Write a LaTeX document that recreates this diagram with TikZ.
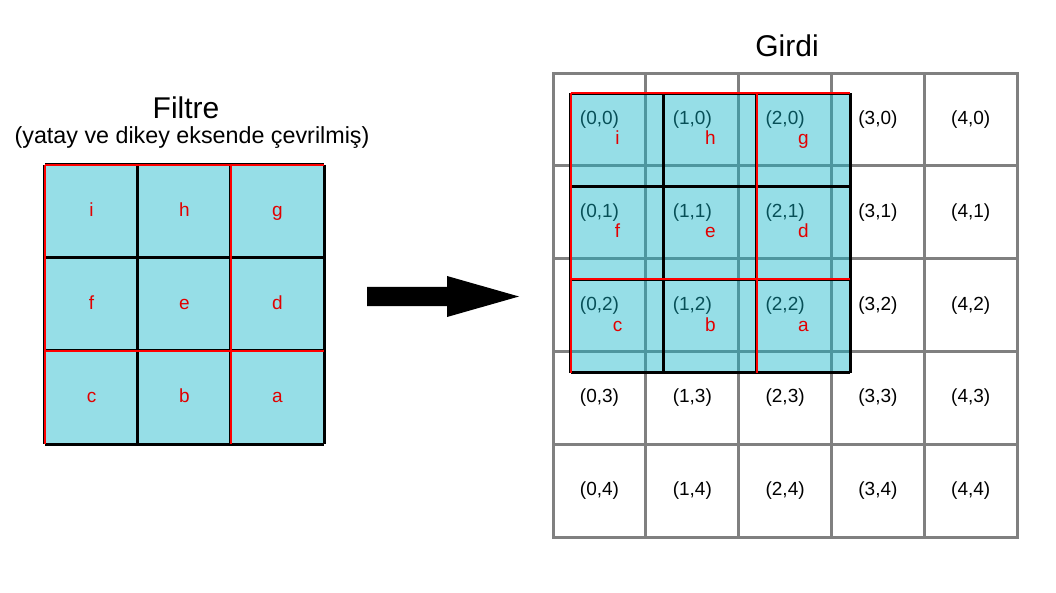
\documentclass[tikz,border=0pt]{standalone}
\usepackage{fontspec}
\setmainfont{Liberation Sans}
\definecolor{cellfill}{RGB}{150,222,231}
\definecolor{ovfill}{RGB}{16,180,200}
\definecolor{lettred}{RGB}{226,0,0}
\definecolor{gridgray}{RGB}{128,128,128}
\tikzset{
  txt/.style={font=\fontsize{19}{22}\selectfont, text height=14pt, text depth=4pt},
  gridcell/.style={draw=gridgray, line width=3pt, minimum size=92.8pt, inner sep=0pt, txt},
  filtcell/.style={fill=cellfill, minimum size=93pt, inner sep=0pt, text=lettred, txt},
  ovcell/.style={fill=ovfill, fill opacity=0.44, text opacity=1, minimum size=93pt, inner sep=0pt},
  letter/.style={text=lettred, inner sep=0pt, txt},
  blackline/.style={draw=black, line width=3pt},
  redline/.style={draw=red, line width=2pt},
  title/.style={font=\fontsize{30}{34}\selectfont},
  subtitle/.style={font=\fontsize{23.3}{27}\selectfont}
}
\begin{document}
\begin{tikzpicture}[x=1pt,y=-1pt]
\useasboundingbox (0,0) rectangle (1056,593);
% titles
\node[title] (tfilt) at (186,108) {Filtre};
\node[subtitle] (tsub) at (192,138) {(yatay ve dikey eksende çevrilmiş)};
\node[title] (tgirdi) at (787,46) {Girdi};
% input grid
\foreach \i in {0,...,4}{
  \foreach \j in {0,...,4}{
    \node[gridcell] (g-\i-\j) at ({599.5+92.8*\i},{119.5+92.8*\j}) {(\i,\j)};
  }
}
% filter
\foreach \i/\j/\t in {0/0/i,1/0/h,2/0/g,0/1/f,1/1/e,2/1/d,0/2/c,1/2/b,2/2/a}{
  \node[filtcell] (f-\i-\j) at ({91.5+93*\i},{211.5+93*\j}) {\t};
}
\foreach \a/\b in {f-0-1.north west/f-2-1.north east, f-0-2.south west/f-2-2.south east,
                   f-1-0.north west/f-1-2.south west, f-2-0.north east/f-2-2.south east,
                   f-0-0.north west/f-2-0.north east, f-0-0.north west/f-0-2.south west,
                   f-0-2.north west/f-2-2.north east, f-2-0.north west/f-2-2.south west}{
  \draw[blackline] (\a) -- (\b);
}
\foreach \a/\b in {f-0-0.north west/f-2-0.north east, f-0-0.north west/f-0-2.south west,
                   f-0-2.north west/f-2-2.north east, f-2-0.north west/f-2-2.south west}{
  \draw[redline] (\a) -- (\b);
}
% overlay
\foreach \i/\j/\t in {0/0/i,1/0/h,2/0/g,0/1/f,1/1/e,2/1/d,0/2/c,1/2/b,2/2/a}{
  \node[ovcell] (o-\i-\j) at ({617.5+93*\i},{140+93*\j}) {};
  \node[letter] (ol-\i-\j) at (o-\i-\j) {\t};
}
\foreach \a/\b in {o-0-1.north west/o-2-1.north east, o-0-2.south west/o-2-2.south east,
                   o-1-0.north west/o-1-2.south west, o-2-0.north east/o-2-2.south east,
                   o-0-0.north west/o-2-0.north east, o-0-0.north west/o-0-2.south west,
                   o-0-2.north west/o-2-2.north east, o-2-0.north west/o-2-2.south west}{
  \draw[blackline] (\a) -- (\b);
}
\foreach \a/\b in {o-0-0.north west/o-2-0.north east, o-0-0.north west/o-0-2.south west,
                   o-0-2.north west/o-2-2.north east, o-2-0.north west/o-2-2.south west}{
  \draw[redline] (\a) -- (\b);
}
% arrow
\fill[black] (367,287) -- (447,287) -- (447,276) -- (519,296.5) -- (447,317) -- (447,306) -- (367,306) -- cycle;
\end{tikzpicture}
\end{document}
